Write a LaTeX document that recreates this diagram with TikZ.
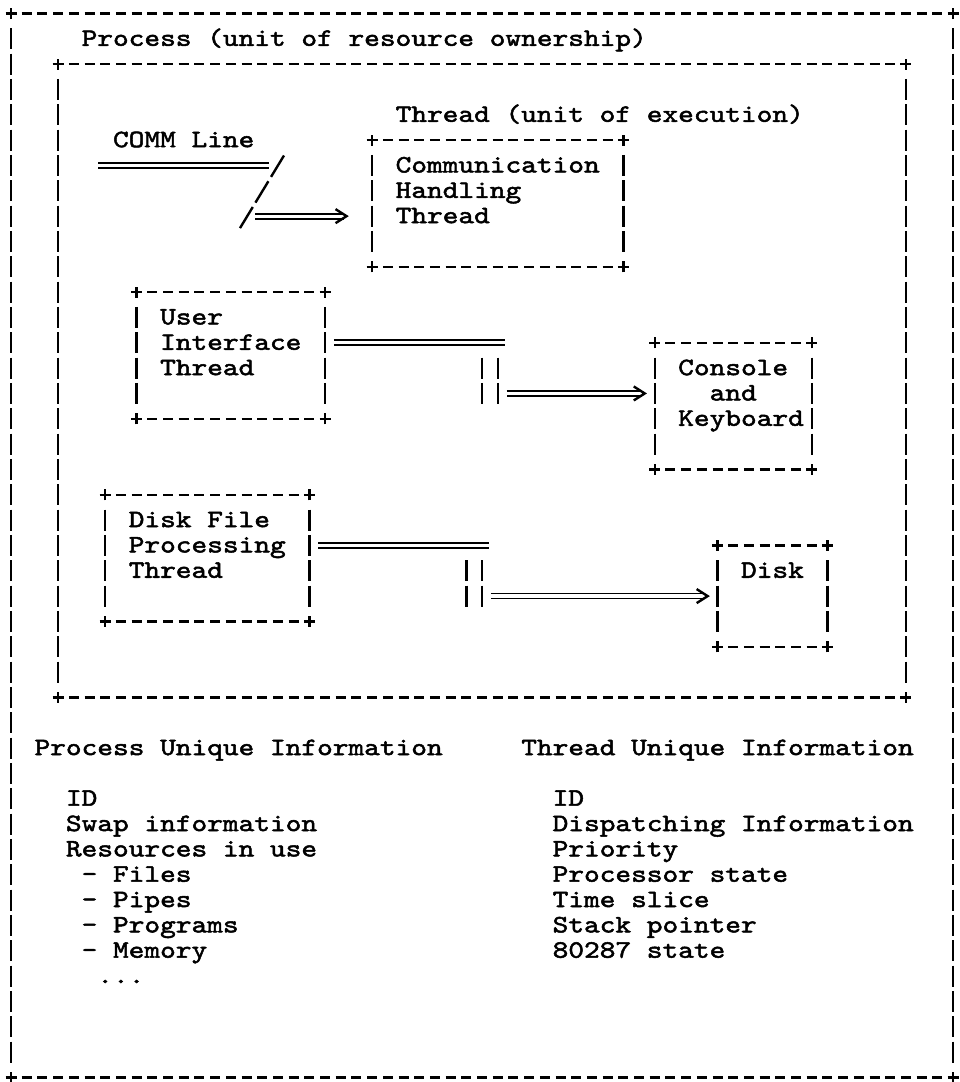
\documentclass[tikz,border=0pt]{standalone}
\usepackage{fontspec}
\newfontfamily\asciifont[FakeStretch=1.196,FakeBold=2]{lmmono10-regular.otf}
\usetikzlibrary{fit}
\newcommand\stack[1]{\vtop{\baselineskip=25.33pt\lineskiplimit=-30pt\lineskip=0pt #1}}
\newcommand\abox[5]{%
  \coordinate (#1-nw) at ({11+15.7*#2},{13.5+25.33*#3});
  \coordinate (#1-se) at ({11+15.7*#4},{13.5+25.33*#5});
  \node[area, fit=(#1-nw)(#1-se)] (#1) {};
  \draw[hline] ([xshift=10.7pt]#1.north west) -- ([xshift=-10.7pt]#1.north east);
  \draw[hline] ([xshift=10.7pt]#1.south west) -- ([xshift=-10.7pt]#1.south east);
  \draw[vline] ([yshift=-14.83pt]#1.north west) -- ([yshift=14.83pt]#1.south west);
  \draw[vline] ([yshift=-14.83pt]#1.north east) -- ([yshift=14.83pt]#1.south east);
  \foreach \a in {north west,north east,south west,south east}{
    \draw[plusmk] ([xshift=-5.5pt]#1.\a) -- ([xshift=5.5pt]#1.\a)
                  ([yshift=-5.5pt]#1.\a) -- ([yshift=5.5pt]#1.\a);}
}
\newcommand\tline[4]{\node[txt] (#1) at ({3.15+15.7*#2},{20.5+25.33*#3}) {#4};}
\begin{document}
\begin{tikzpicture}[x=1pt,y=-1pt,
  hline/.style={line width=2.4pt, dash pattern=on 10pt off 5.7pt},
  vline/.style={line width=2.4pt, dash pattern=on 21pt off 4.33pt},
  plusmk/.style={line width=2.4pt},
  dbl/.style={draw, line width=1.8pt, double, double distance=3.2pt},
  tiphead/.style={line width=2.4pt, line join=miter},
  slash/.style={line width=2.4pt, dash pattern=on 25pt off 5.1pt},
  txt/.style={anchor=base west, inner sep=0pt, outer sep=0pt, font=\asciifont\fontsize{25}{25.33}\selectfont},
  area/.style={inner sep=0pt, outer sep=0pt}]
\fill[white] (0,0) rectangle (959,1082);
\useasboundingbox (0,0) rectangle (959,1082);

% boxes
\abox{outer}{0}{0}{60}{42}
\abox{inner}{3}{2}{57}{27}
\abox{comm}{23}{5}{39}{10}
\abox{ui}{8}{11}{20}{16}
\abox{console}{41}{13}{51}{18}
\abox{dfp}{6}{19}{19}{24}
\abox{disk}{45}{21}{52}{25}

% texts
\tline{ttlproc}{5}{1}{Process (unit of resource ownership)}
\tline{ttlthr}{25}{4}{Thread (unit of execution)}
\tline{commline}{7}{5}{COMM Line}
\tline{commtxt}{25}{6}{\stack{\hbox{Communication}\hbox{Handling}\hbox{Thread}}}
\tline{uitxt}{10}{12}{\stack{\hbox{User}\hbox{Interface}\hbox{Thread}}}
\tline{contxt}{43}{14}{\stack{\hbox{Console}\hbox{\phantom{Co}and}\hbox{Keyboard}}}
\tline{dfptxt}{8}{20}{\stack{\hbox{Disk File}\hbox{Processing}\hbox{Thread}}}
\tline{disktxt}{47}{22}{Disk}
\tline{puhead}{2}{29}{Process Unique Information}
\tline{tuhead}{33}{29}{Thread Unique Information}
\tline{pulist}{4}{31}{\stack{\hbox{ID}\hbox{Swap information}\hbox{Resources in use}%
  \hbox{\phantom{x}- Files}\hbox{\phantom{x}- Pipes}\hbox{\phantom{x}- Programs}%
  \hbox{\phantom{x}- Memory}\hbox{\phantom{xx}...}}}
\tline{tulist}{35}{31}{\stack{\hbox{ID}\hbox{Dispatching Information}\hbox{Priority}%
  \hbox{Processor state}\hbox{Time slice}\hbox{Stack pointer}\hbox{80287 state}}}

% COMM line connector
\coordinate (c0) at (98.35,165.48);
\coordinate (c1) at (269.05,165.48);
\coordinate (s0) at (284,155.5);
\coordinate (s1) at (240,228.1);
\coordinate (c2) at (255.35,216.14);
\coordinate (c3) at (346.55,216.14);
\draw[dbl] (c0) -- (c1);
\draw[slash] (s0) -- (s1);
\draw[dbl] (c2) -- ([xshift=-3pt]c3);
\draw[tiphead] ([xshift=-11pt,yshift=7pt]c3) -- (c3) -- ([xshift=-11pt,yshift=-7pt]c3);

% UI -> console
\coordinate (u0) at ([xshift=8.85pt]ui.east |- 0,342.79);
\coordinate (u1) at (504.55,342.79);
\coordinate (u2a) at (482,357.62);
\coordinate (u3a) at (482,403.95);
\coordinate (u2b) at (497.7,357.62);
\coordinate (u3b) at (497.7,403.95);
\coordinate (u4) at (506.55,393.45);
\coordinate (u5) at ([xshift=-9.95pt]console.west |- 0,393.45);
\draw[dbl] (u0) -- (u1);
\draw[vline] (u2a) -- (u3a);
\draw[vline] (u2b) -- (u3b);
\draw[dbl] (u4) -- ([xshift=-3pt]u5);
\draw[tiphead] ([xshift=-11pt,yshift=7pt]u5) -- (u5) -- ([xshift=-11pt,yshift=-7pt]u5);

% DFP -> disk
\coordinate (d0) at (318.15,545.43);
\coordinate (d1) at (488.85,545.43);
\coordinate (d2a) at (466.3,560.26);
\coordinate (d3a) at (466.3,606.59);
\coordinate (d2b) at (482,560.26);
\coordinate (d3b) at (482,606.59);
\coordinate (d4) at (490.85,596.09);
\coordinate (d5) at (707.65,596.09);
\draw[dbl] (d0) -- (d1);
\draw[vline] (d2a) -- (d3a);
\draw[vline] (d2b) -- (d3b);
\draw[dbl] (d4) -- ([xshift=-3pt]d5);
\draw[tiphead] ([xshift=-11pt,yshift=7pt]d5) -- (d5) -- ([xshift=-11pt,yshift=-7pt]d5);
\end{tikzpicture}
\end{document}
